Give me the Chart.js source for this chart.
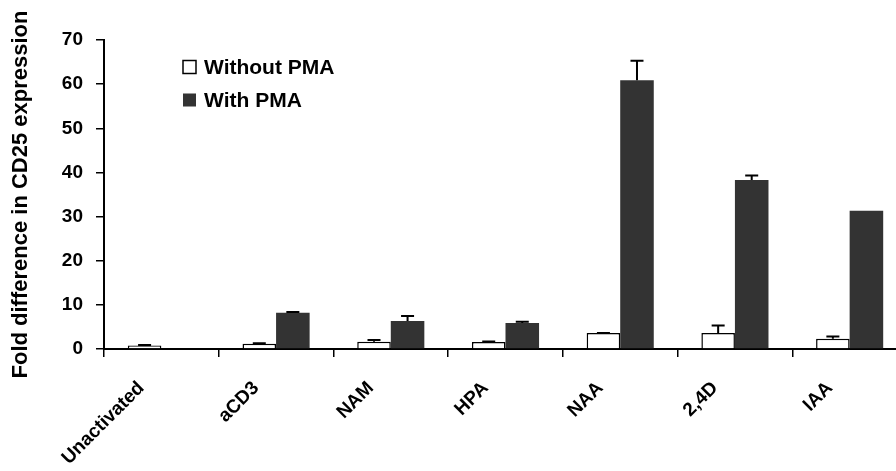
<!DOCTYPE html>
<html>
<head>
<meta charset="utf-8">
<script src="https://cdn.jsdelivr.net/npm/chart.js@4.4.0/dist/chart.umd.min.js"></script>
<style>
  html, body { margin: 0; padding: 0; background: #fff; overflow: hidden; }
</style>
</head>
<body>
<canvas id="canvas" width="907" height="471"></canvas>
<script>
var categories = ['Unactivated', 'aCD3', 'NAM', 'HPA', 'NAA', '2,4D', 'IAA'];
var withoutPma = [0.8, 1.2, 1.65, 1.6, 3.6, 3.6, 2.35];
var withoutPmaErr = [0.1, 0.1, 0.4, 0.1, 0.05, 1.7, 0.5];
var withPma = [null, 8.2, 6.35, 5.9, 60.9, 38.3, 31.3];
var withPmaErr = [0, 0.2, 1.1, 0.3, 4.4, 1.0, 0];
var yTicks = [0, 10, 20, 30, 40, 50, 60, 70];

var FONT = "'Liberation Sans', Arial, sans-serif";

// error bars: only the upper half, drawn on top of each bar
var errorBars = {
    id: 'errorBars',
    afterDatasetsDraw: function (chart) {
        var ctx = chart.ctx;
        var yScale = chart.scales.y;
        ctx.save();
        ctx.strokeStyle = '#000';
        ctx.lineWidth = 2;
        chart.data.datasets.forEach(function (ds, i) {
            var meta = chart.getDatasetMeta(i);
            meta.data.forEach(function (bar, j) {
                var v = ds.data[j];
                var e = ds.errors[j];
                if (v === null || !e) return;
                var yTop = yScale.getPixelForValue(v + e);
                ctx.beginPath();
                ctx.moveTo(bar.x, bar.y);
                ctx.lineTo(bar.x, yTop);
                ctx.moveTo(bar.x - 6.5, yTop);
                ctx.lineTo(bar.x + 6.5, yTop);
                ctx.stroke();
            });
        });
        ctx.restore();
    }
};

// legend with square boxes inside the plot
var boxLegend = {
    id: 'boxLegend',
    afterDraw: function (chart) {
        var ctx = chart.ctx;
        ctx.save();
        ctx.font = 'bold 21px ' + FONT;
        ctx.textBaseline = 'middle';
        chart.data.datasets.forEach(function (ds, i) {
            var y = 67 + i * 33;
            ctx.fillStyle = ds.backgroundColor;
            ctx.fillRect(183, y - 6.5, 13, 13);
            if (ds.borderWidth) {
                ctx.strokeStyle = '#000';
                ctx.lineWidth = 1.5;
                ctx.strokeRect(183, y - 6.5, 13, 13);
            }
            ctx.fillStyle = '#000';
            ctx.fillText(ds.label, 204, y + 1);
        });
        ctx.restore();
    }
};

var ctx = document.getElementById('canvas');
var myChart = new Chart(ctx, {
    type: 'bar',
    data: {
        labels: categories,
        datasets: [{
            label: 'Without PMA',
            data: withoutPma,
            errors: withoutPmaErr,
            backgroundColor: '#ffffff',
            borderColor: '#000000',
            borderWidth: 1.5
        }, {
            label: 'With PMA',
            data: withPma,
            errors: withPmaErr,
            backgroundColor: '#333333',
            borderWidth: 0
        }]
    },
    options: {
        responsive: false,
        animation: false,
        layout: { padding: { top: 40, left: 0, right: 0, bottom: 0 } },
        datasets: { bar: { categoryPercentage: 0.585, barPercentage: 1 } },
        plugins: {
            legend: { display: false },
            tooltip: { enabled: false }
        },
        scales: {
            x: {
                border: { color: '#000', width: 2 },
                grid: { drawOnChartArea: false, drawTicks: true, tickLength: 8, color: '#000', lineWidth: 1.5, offset: true },
                ticks: {
                    color: '#000',
                    font: { family: FONT, size: 19, weight: 'bold' },
                    minRotation: 45,
                    maxRotation: 45,
                    padding: 20,
                    labelOffset: -20,
                    autoSkip: false
                },
                afterFit: function (scale) { scale.height = 122; }
            },
            y: {
                min: 0,
                max: 70,
                border: { color: '#000', width: 2 },
                grid: { drawOnChartArea: false, drawTicks: true, tickLength: 8, color: '#000', lineWidth: 1.5 },
                afterBuildTicks: function (scale) {
                    scale.ticks = yTicks.map(function (v) { return { value: v }; });
                },
                ticks: {
                    color: '#000',
                    padding: 13,
                    font: { family: FONT, size: 19, weight: 'bold' }
                },
                title: {
                    display: true,
                    text: 'Fold difference in CD25 expression',
                    color: '#000',
                    padding: { top: 8, bottom: 0 },
                    font: { family: FONT, size: 22, weight: 'bold' }
                },
                afterFit: function (scale) { scale.width = 104; }
            }
        }
    },
    plugins: [errorBars, boxLegend]
});
</script>
</body>
</html>
